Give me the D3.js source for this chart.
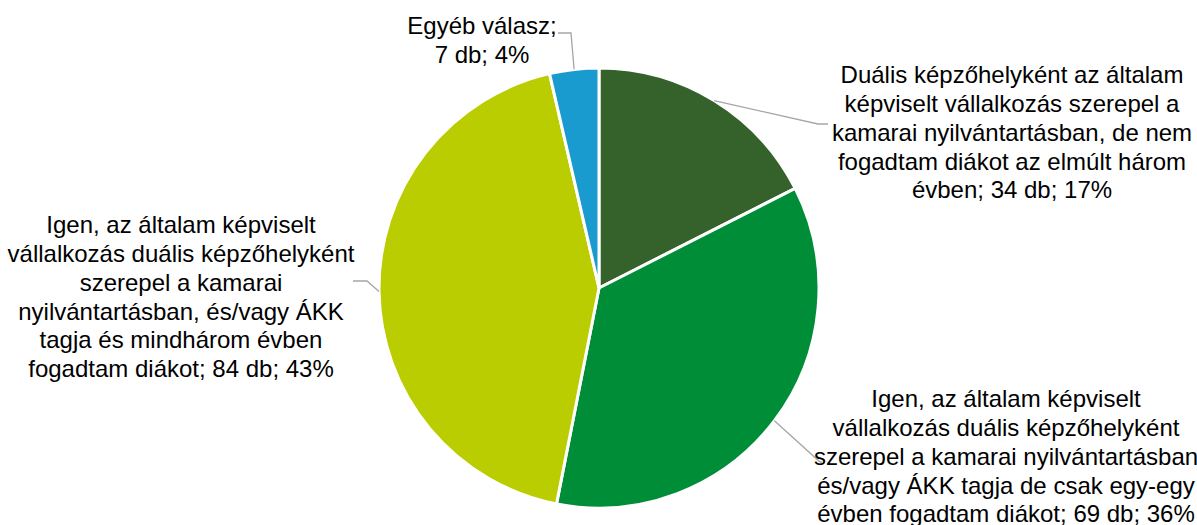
<!DOCTYPE html>
<html>
<head>
<meta charset="utf-8">
<script src="https://cdn.jsdelivr.net/npm/d3@7"></script>
<style>
  body { margin: 0; background: #fff; }
  text { font-family: Arial, "Liberation Sans", sans-serif; fill: #000; }
</style>
</head>
<body>
<svg></svg>
<script>
const width = 1197;
const height = 525;

// slice data, clockwise from 12 o'clock
const categories = ["dual_nem", "igen_egy", "igen_mind", "egyeb"];
const counts = [34, 69, 84, 7];
const percents = [17, 36, 43, 4];
const colors = ["#35622b", "#008d38", "#b9cd00", "#1a9bd0"];
const labelLines = [
  ["Duális képzőhelyként az általam", "képviselt vállalkozás szerepel a", "kamarai nyilvántartásban, de nem", "fogadtam diákot az elmúlt három", "évben; 34 db; 17%"],
  ["Igen, az általam képviselt", "vállalkozás duális képzőhelyként", "szerepel a kamarai nyilvántartásban", "és/vagy ÁKK tagja de csak egy-egy", "évben fogadtam diákot; 69 db; 36%"],
  ["Igen, az általam képviselt", "vállalkozás duális képzőhelyként", "szerepel a kamarai", "nyilvántartásban, és/vagy ÁKK", "tagja és mindhárom évben", "fogadtam diákot; 84 db; 43%"],
  ["Egyéb válasz;", "7 db; 4%"]
];

const cx = 599, cy = 288, radius = 220;
const lineH = 28.7;

// label placement (centre x, first line y) and leader line elbow
const labelPos = [
  { x: 1012, y: 75, elbow: [818, 124], end: [828, 124] },
  { x: 1006, y: 399, elbow: [820, 462], end: [822, 462] },
  { x: 181, y: 225, elbow: [367, 281], end: [353, 281] },
  { x: 482, y: 26, elbow: [571, 33], end: [558, 33] }
];

const svg = d3.select("svg").attr("width", width).attr("height", height);

const data = categories.map((c, i) => ({
  key: c, value: counts[i], pct: percents[i], color: colors[i], lines: labelLines[i], pos: labelPos[i]
}));

const pie = d3.pie().sort(null).value(d => d.value);
const arcs = pie(data);
const arc = d3.arc().innerRadius(0).outerRadius(radius);

const g = svg.append("g").attr("transform", `translate(${cx},${cy})`);

g.selectAll("path")
  .data(arcs)
  .enter()
  .append("path")
  .attr("d", arc)
  .attr("fill", d => d.data.color)
  .attr("stroke", "#fff")
  .attr("stroke-width", 3)
  .attr("stroke-linejoin", "round");

// leader lines: from mid-angle point on the rim to the elbow near the label
svg.append("g")
  .selectAll("polyline")
  .data(arcs)
  .enter()
  .append("polyline")
  .attr("fill", "none")
  .attr("stroke", "#a6a6a6")
  .attr("stroke-width", 1.3)
  .attr("points", d => {
    const a = (d.startAngle + d.endAngle) / 2;
    const sx = cx + Math.sin(a) * radius;
    const sy = cy - Math.cos(a) * radius;
    const p = d.data.pos;
    return [[sx, sy], p.elbow, p.end].map(q => q.join(",")).join(" ");
  });

const labels = svg.append("g")
  .selectAll("text")
  .data(data)
  .enter()
  .append("text")
  .attr("text-anchor", "middle")
  .attr("font-size", 24)
  .attr("transform", d => `translate(${d.pos.x},${d.pos.y})`);

labels.selectAll("tspan")
  .data(d => d.lines)
  .enter()
  .append("tspan")
  .attr("x", 0)
  .attr("y", (d, i) => i * lineH)
  .attr("dy", "0.35em")
  .text(d => d);
</script>
</body>
</html>
